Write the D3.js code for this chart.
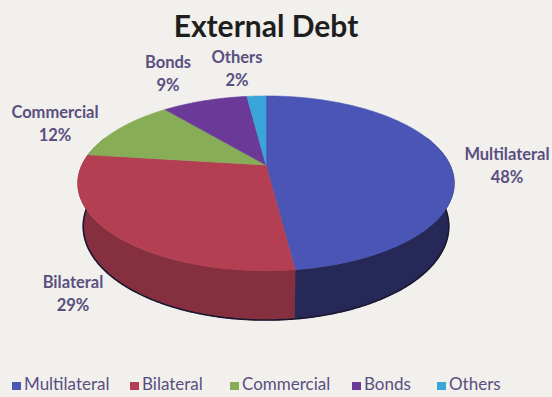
<!DOCTYPE html>
<html><head><meta charset="utf-8">
<script src="https://cdn.jsdelivr.net/npm/d3@7"></script>
<style>body{margin:0;background:#f1f0ec;overflow:hidden}</style>
</head><body>
<svg id="c" width="552" height="397"></svg>
<script>
const categories = ["Multilateral", "Bilateral", "Commercial", "Bonds", "Others"];
const shares = [48, 29, 12, 9, 2];
const percentLabels = ["48%", "29%", "12%", "9%", "2%"];
const title = "External Debt";

const topColors = ["#4b55b6", "#b43f52", "#87ad57", "#6b3a99", "#3aa5d8"];
const sideColors = ["#262958", "#86303f", "#5a7a35", "#44245f", "#236e90"];
const textColor = "#5a4f80";

// layout (label anchors, legend positions)
const labelPos = [[507, 160], [73, 288], [55, 118], [168, 68], [237, 63]];
const legendX = [12, 130, 230, 352, 437];

const svg = d3.select("#c");
svg.append("rect").attr("width", 552).attr("height", 397).attr("fill", "#f1f0ec");

// perspective projection of a tilted disk
const cx = 266, cy = 165, k = 184;
const tilt = 27 * Math.PI / 180, s = Math.sin(tilt), c = Math.cos(tilt);
const u = 0.235, depth = 0.265;
function proj(theta, r, h) {
  const X = r * Math.sin(theta), Z = -r * Math.cos(theta);
  const w = 1 - u * c * Z + u * s * h;
  return [cx + k * X / w, cy + k * (Z * s + h * c) / w];
}
function arcPts(a0, a1, h) {
  const n = Math.max(2, Math.ceil(Math.abs(a1 - a0) / 0.01));
  return d3.range(n + 1).map(i => proj(a0 + (a1 - a0) * i / n, 1, h));
}
const line = d3.line();

const arcs = d3.pie().sort(null).value(d => d)(shares);

// walls (front half)
const wMin = Math.PI / 2 - 0.35, wMax = 3 * Math.PI / 2 + 0.35;
const g = svg.append("g");
arcs.forEach((a, i) => {
  const a0 = Math.max(a.startAngle, wMin), a1 = Math.min(a.endAngle, wMax);
  if (a1 <= a0) return;
  const pts = arcPts(a0, a1, 0).concat(arcPts(a1, a0, depth));
  g.append("path").attr("d", line(pts) + "Z")
    .attr("fill", sideColors[i]).attr("stroke", sideColors[i]).attr("stroke-width", 0.8);
});
// bottom rim dark edge
g.append("path").attr("d", line(arcPts(wMin + 0.3, wMax - 0.3, depth)))
  .attr("fill", "none").attr("stroke", "#1a1830").attr("stroke-width", 1.6);

// tops
arcs.forEach((a, i) => {
  const pts = [proj(0, 0, 0)].concat(arcPts(a.startAngle, a.endAngle, 0));
  g.append("path").attr("d", line(pts) + "Z")
    .attr("fill", topColors[i]).attr("stroke", topColors[i]).attr("stroke-width", 0.6);
});

// title
svg.append("text").attr("x", 266).attr("y", 37).attr("text-anchor", "middle")
  .attr("font-family", "Lato, 'Open Sans', sans-serif").attr("font-weight", 700)
  .attr("font-size", 30).attr("fill", "#1e1e1e").text(title);

// data labels
categories.forEach((cat, i) => {
  const t = svg.append("text").attr("text-anchor", "middle")
    .attr("font-family", "Lato, 'Open Sans', sans-serif").attr("font-weight", 700)
    .attr("font-size", 16.5).attr("fill", textColor);
  t.append("tspan").attr("x", labelPos[i][0]).attr("y", labelPos[i][1]).text(cat);
  t.append("tspan").attr("x", labelPos[i][0]).attr("y", labelPos[i][1] + 23).text(percentLabels[i]);
});

// legend
categories.forEach((cat, i) => {
  svg.append("rect").attr("x", legendX[i]).attr("y", 382).attr("width", 9).attr("height", 8)
    .attr("fill", topColors[i]);
  svg.append("text").attr("x", legendX[i] + 12).attr("y", 390)
    .attr("font-family", "Lato, 'Open Sans', sans-serif").attr("font-weight", 400)
    .attr("font-size", 17).attr("fill", textColor).text(cat);
});
</script>
</body></html>
